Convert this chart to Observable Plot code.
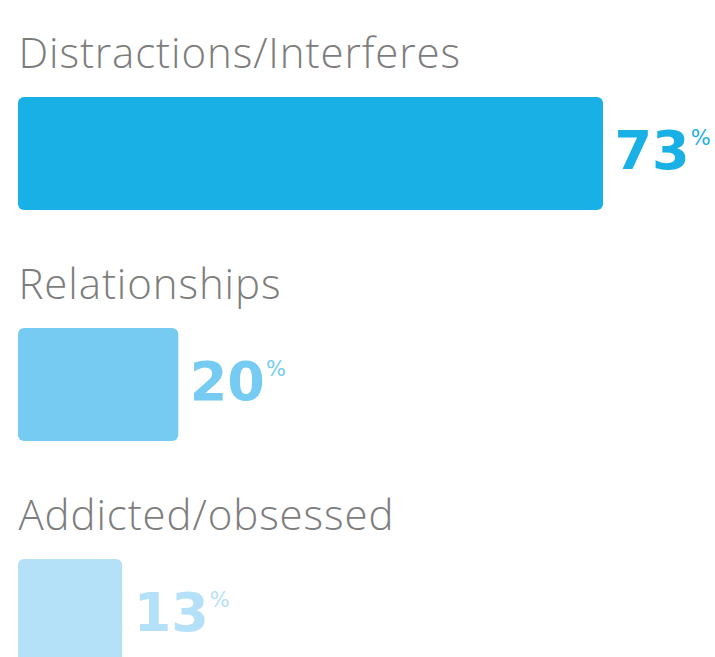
<!DOCTYPE html>
<html><head><meta charset="utf-8">
<script src="https://cdn.jsdelivr.net/npm/d3@7"></script>
<script src="https://cdn.jsdelivr.net/npm/@observablehq/plot@0.6"></script>
<style>html,body{margin:0;padding:0;background:#fff} svg{display:block}</style>
</head><body><div id="chart"></div>
<script>
const categories = ["Distractions/Interferes", "Relationships", "Addicted/obsessed"];
const values = [73, 20, 13];
const colors = ["#19b0e6", "#76cbf2", "#b4e1f8"];
const data = categories.map((c, i) => ({category: c, value: values[i], color: colors[i]}));

const chart = Plot.plot({
  width: 715, height: 657,
  margin: 0,
  style: {background: "#fff"},
  x: {domain: [0, 73], range: [18, 603], axis: null},
  y: {domain: categories, range: [97, 673], paddingInner: 0.512, paddingOuter: 0, align: 0, axis: null},
  marks: [
    Plot.barX(data, {x: "value", y: "category", fill: "color", rx: 6}),
    Plot.text(data, {x: 0, y: "category", text: "category", textAnchor: "start", lineAnchor: "bottom",
      dy: -86, fill: "#7d7d7d", fontSize: 42, fontWeight: 300, fontFamily: "Open Sans"}),
    Plot.text(data, {x: "value", y: "category", text: d => String(d.value), textAnchor: "start", lineAnchor: "bottom",
      dx: 11, dy: 15, fill: "color", fontSize: 54, fontWeight: 700, fontFamily: "DejaVu Sans"})
  ]
});
const textGroups = chart.querySelectorAll('g[aria-label="text"]');
textGroups[0].querySelectorAll("text").forEach(t => t.setAttribute("letter-spacing", "0.9"));
textGroups[1].querySelectorAll("text").forEach(t => {
  const ts = document.createElementNS("http://www.w3.org/2000/svg", "tspan");
  ts.textContent = "%";
  ts.setAttribute("font-size", "21");
  ts.setAttribute("font-weight", "400");
  ts.setAttribute("dx", "1");
  ts.setAttribute("dy", "-24");
  t.appendChild(ts);
});
document.getElementById("chart").appendChild(chart);
</script>
</body></html>
